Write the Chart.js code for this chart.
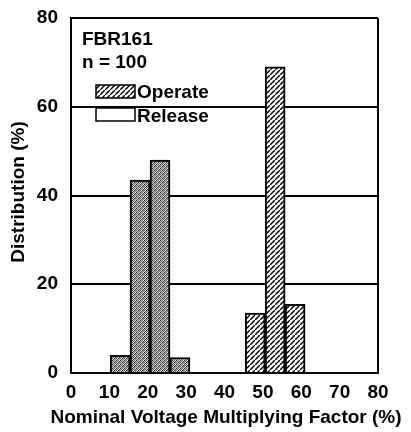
<!DOCTYPE html>
<html>
<head>
<meta charset="utf-8">
<script src="https://cdn.jsdelivr.net/npm/chart.js@4"></script>
<style>
  html, body { margin: 0; padding: 0; background: #fff; }
  #wrap { width: 411px; height: 432px; }
</style>
</head>
<body>
<div id="wrap"><canvas id="chart" width="411" height="432"></canvas></div>
<script>
/* ---------- Data ---------- */
const xTickVals = [0, 10, 20, 30, 40, 50, 60, 70, 80];
const yTickVals = [0, 20, 40, 60, 80];
const releaseX = [12.8, 18.0, 23.2, 28.4];   // bin centres (%)
const releasePct = [4, 43.5, 48, 3.5];
const operateX = [48.0, 53.2, 58.4];
const operatePct = [13.5, 69, 15.5];

const FONT = "'Liberation Sans', Arial, sans-serif";

/* ---------- Fill patterns ---------- */
function hatchPattern() {
  const c = document.createElement('canvas');
  c.width = 5; c.height = 5;
  const g = c.getContext('2d');
  g.fillStyle = '#fff';
  g.fillRect(0, 0, 5, 5);
  g.strokeStyle = '#000';
  g.lineWidth = 1.4;
  g.beginPath();
  g.moveTo(-1, 6); g.lineTo(6, -1);
  g.stroke();
  return g.createPattern(c, 'repeat');
}

// grey halftone used for the release bars
function stipplePattern() {
  const c = document.createElement('canvas');
  c.width = 4; c.height = 4;
  const g = c.getContext('2d');
  const cells = [
    '#222', '#ccc', '#666', '#eee',
    '#bbb', '#777', '#ddd', '#333',
    '#555', '#eee', '#222', '#aaa',
    '#ddd', '#444', '#bbb', '#888'
  ];
  cells.forEach((col, i) => {
    g.fillStyle = col;
    g.fillRect(i % 4, Math.floor(i / 4), 1, 1);
  });
  return g.createPattern(c, 'repeat');
}

const hatch = hatchPattern();
const stipple = stipplePattern();

/* ---------- Labels + legend inside plot, axis titles ---------- */
const insideNotes = {
  id: 'insideNotes',
  afterDraw(chart) {
    const ctx = chart.ctx;
    ctx.save();
    ctx.fillStyle = '#000';
    ctx.font = `bold 19px ${FONT}`;
    ctx.textBaseline = 'alphabetic';
    ctx.textAlign = 'left';
    ctx.fillText('FBR161', 82, 45);
    ctx.fillText('n = 100', 82, 68);

    ctx.lineWidth = 1.5;
    ctx.strokeStyle = '#000';
    ctx.fillStyle = hatch;
    ctx.fillRect(96, 85, 39, 13);
    ctx.strokeRect(96, 85, 39, 13);
    ctx.fillStyle = '#fff';
    ctx.fillRect(96, 108, 39, 13);
    ctx.strokeRect(96, 108, 39, 13);

    ctx.fillStyle = '#000';
    ctx.fillText('Operate', 137, 98);
    ctx.fillText('Release', 137, 122);

    // x title (drawn here so it is not squeezed to the axis width)
    ctx.textAlign = 'center';
    ctx.fillText('Nominal Voltage Multiplying Factor (%)', 226, 423);

    ctx.translate(19, 192);
    ctx.rotate(-Math.PI / 2);
    ctx.textBaseline = 'middle';
    ctx.fillText('Distribution (%)', 0, 0);
    ctx.restore();
  }
};

new Chart(document.getElementById('chart'), {
  type: 'bar',
  data: {
    datasets: [
      {
        label: 'Release',
        data: releaseX.map((x, i) => ({ x, y: releasePct[i] })),
        backgroundColor: stipple,
        borderColor: '#000',
        borderWidth: 2
      },
      {
        label: 'Operate',
        data: operateX.map((x, i) => ({ x, y: operatePct[i] })),
        backgroundColor: hatch,
        borderColor: '#000',
        borderWidth: 2
      }
    ]
  },
  options: {
    responsive: false,
    animation: false,
    grouped: false,
    barPercentage: 1,
    categoryPercentage: 1,
    layout: { padding: { top: 18, right: 33, left: 0, bottom: 0 } },
    plugins: { legend: { display: false }, tooltip: { enabled: false } },
    scales: {
      x: {
        type: 'linear',
        min: 0, max: 80,
        offset: false,
        afterBuildTicks: s => { s.ticks = xTickVals.map(v => ({ value: v })); },
        afterFit: s => { s.height = 59; s.paddingLeft = 0; s.paddingRight = 0; },
        border: { display: true, color: '#000', width: 2 },
        grid: {
          offset: false,
          drawTicks: false,
          lineWidth: 2,
          color: c => (c.tick && c.tick.value === 80 ? '#000' : 'rgba(0,0,0,0)')
        },
        ticks: { color: '#000', padding: 8, font: { family: FONT, size: 19, weight: 'bold' } }
      },
      y: {
        min: 0, max: 80,
        z: 1, // grid lines run across the bars in the original
        afterBuildTicks: s => { s.ticks = yTickVals.map(v => ({ value: v })); },
        afterFit: s => { s.width = 71; s.paddingTop = 0; s.paddingBottom = 0; },
        border: { display: true, color: '#000', width: 2 },
        grid: { drawTicks: false, lineWidth: 2, color: '#000' },
        ticks: { color: '#000', padding: 13, font: { family: FONT, size: 19, weight: 'bold' } }
      }
    }
  },
  plugins: [insideNotes]
});
</script>
</body>
</html>
